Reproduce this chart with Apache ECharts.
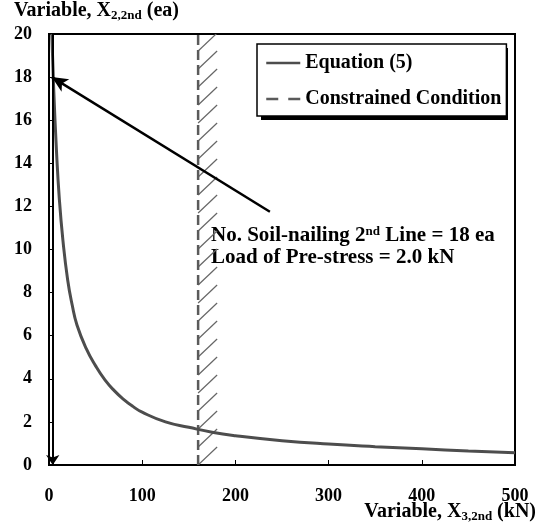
<!DOCTYPE html>
<html>
<head>
<meta charset="utf-8">
<script src="https://cdn.jsdelivr.net/npm/echarts@6/dist/echarts.min.js"></script>
<style>
  html, body { margin: 0; padding: 0; background: #fff; }
  #chart { width: 542px; height: 526px; }
</style>
</head>
<body>
<div id="chart"></div>
<script>
// ---- Data ----

// Equation (5) curve
const curveX = [3, 5, 8, 11, 15, 20, 25, 30, 40, 50, 60, 70, 80, 90, 100, 125, 150, 175, 200, 250, 300, 350, 400, 450, 500]
const curveY = [20, 17.5, 14.6, 12.4, 10.4, 8.6, 7.4, 6.5, 5.4, 4.6, 3.95, 3.45, 3.05, 2.72, 2.45, 2.0, 1.75, 1.52, 1.36, 1.13, 0.97, 0.85, 0.75, 0.65, 0.57]

// Constrained condition (vertical dashed line)
const constraintX = [160, 160]
const constraintY = [0, 20]

// Annotation arrows: [x, y] from -> to
const pointerFrom = [237, 11.75]
const pointerTo = [3, 18]
const downFrom = [4, 20]
const downTo = [4, 0]

const X_MIN = 0
const X_MAX = 500
const X_STEP = 100
const Y_MIN = 0
const Y_MAX = 20
const Y_STEP = 2

const SERIF = '"Liberation Serif", "Times New Roman", serif'
const INK = '#000'
const CURVE_COLOR = '#4d4d4d'
const DASH_COLOR = '#5a5a5a'

// ---- Helpers ----

function zip(xs, ys) {
  return xs.map((x, i) => [x, ys[i]])
}

// hatch marks on the right side of the constraint line
function renderHatch(params, api) {
  const bottom = api.coord([api.value(0), Y_MIN])
  const top = api.coord([api.value(0), Y_MAX])
  const children = []
  for (let y = bottom[1]; y > top[1] + 2; y -= 18) {
    children.push({
      type: 'line',
      shape: { x1: bottom[0], y1: y, x2: bottom[0] + 19, y2: y - 18 },
      style: { stroke: '#666', lineWidth: 1.2 },
    })
  }
  return { type: 'group', children }
}

const titleRich = {
  a: { fontFamily: SERIF, fontWeight: 'bold', fontSize: 20, lineHeight: 22, fill: INK },
  s: { fontFamily: SERIF, fontWeight: 'bold', fontSize: 13, lineHeight: 13, verticalAlign: 'bottom', padding: [6, 0, 0, 0], fill: INK },
}

function buildOption() {
  return {
    animation: false,
    backgroundColor: '#fff',
    grid: {
      left: 49,
      right: 27,
      top: 34,
      bottom: 61,
      show: true,
      borderColor: INK,
      borderWidth: 2,
    },
    legend: {
      data: [
        { name: 'Equation (5)', lineStyle: { width: 2.5 } },
        { name: 'Constrained Condition', lineStyle: { width: 2.5, type: [12, 10] } },
      ],
      orient: 'vertical',
      left: 257,
      top: 44,
      padding: [9, 5, 7, 8],
      itemWidth: 34,
      itemHeight: 14,
      itemGap: 16,
      backgroundColor: '#fff',
      borderColor: INK,
      borderWidth: 1.5,
      borderRadius: 0,
      selectedMode: false,
      itemStyle: { opacity: 0 },
      textStyle: { color: INK, fontFamily: SERIF, fontWeight: 'bold', fontSize: 20 },
      z: 5,
    },
    xAxis: {
      type: 'value',
      min: X_MIN,
      max: X_MAX,
      interval: X_STEP,
      axisLine: { lineStyle: { color: INK, width: 2 } },
      axisTick: { inside: true, length: 5, lineStyle: { color: INK, width: 1 } },
      axisLabel: { color: INK, fontFamily: SERIF, fontWeight: 'bold', fontSize: 18, margin: 22 },
      splitLine: { show: false },
    },
    yAxis: {
      type: 'value',
      min: Y_MIN,
      max: Y_MAX,
      interval: Y_STEP,
      axisLine: { show: true, lineStyle: { color: INK, width: 2 } },
      axisTick: { show: true, inside: true, length: 5, lineStyle: { color: INK, width: 1 } },
      axisLabel: { color: INK, fontFamily: SERIF, fontWeight: 'bold', fontSize: 18, margin: 17 },
      splitLine: { show: false },
    },
    graphic: [
      // legend drop shadow
      {
        type: 'rect',
        left: 261,
        top: 48,
        shape: { width: 247, height: 72 },
        style: { fill: INK },
        z: 4,
      },
      {
        type: 'text',
        left: 14,
        top: 1,
        style: { text: '{a|Variable, X}{s|2,2nd}{a| (ea)}', rich: titleRich },
      },
      {
        type: 'text',
        right: 6,
        top: 502,
        style: { text: '{a|Variable, X}{s|3,2nd}{a| (kN)}', rich: titleRich },
      },
      {
        type: 'text',
        left: 211,
        top: 225,
        style: {
          text: '{b|No. Soil-nailing 2}{p|nd}{b| Line = 18 ea}\n{b|Load of Pre-stress = 2.0 kN}',
          rich: {
            b: { fontFamily: SERIF, fontWeight: 'bold', fontSize: 21, lineHeight: 22, fill: INK },
            p: { fontFamily: SERIF, fontWeight: 'bold', fontSize: 13, lineHeight: 13, verticalAlign: 'top', fill: INK },
          },
        },
      },
    ],
    series: [
      {
        name: 'Hatch',
        type: 'custom',
        silent: true,
        clip: true,
        renderItem: renderHatch,
        data: [[constraintX[0], Y_MIN]],
        z: 1,
      },
      {
        name: 'Constrained Condition',
        type: 'line',
        data: zip(constraintX, constraintY),
        showSymbol: false,
        symbol: 'none',
        lineStyle: { color: DASH_COLOR, width: 2.5, type: [10, 5] },
        itemStyle: { color: DASH_COLOR },
        z: 2,
      },
      {
        name: 'Equation (5)',
        type: 'line',
        data: zip(curveX, curveY),
        smooth: 0.5,
        showSymbol: false,
        symbol: 'none',
        lineStyle: { color: CURVE_COLOR, width: 3 },
        itemStyle: { color: CURVE_COLOR },
        z: 3,
        markLine: {
          silent: true,
          animation: false,
          label: { show: false },
          lineStyle: { color: INK, width: 2.5, type: 'solid' },
          data: [
            [
              { coord: pointerFrom, symbol: 'none' },
              { coord: pointerTo, symbol: 'arrow', symbolSize: [11, 16] },
            ],
            [
              { coord: downFrom, symbol: 'none', lineStyle: { width: 2 } },
              { coord: downTo, symbol: 'arrow', symbolSize: [10, 10], lineStyle: { width: 2 } },
            ],
          ],
        },
      },
    ],
  }
}

// ---- Chart ----

const chart = echarts.init(document.getElementById('chart'), null, { renderer: 'canvas' })
chart.setOption(buildOption())
</script>
</body>
</html>
